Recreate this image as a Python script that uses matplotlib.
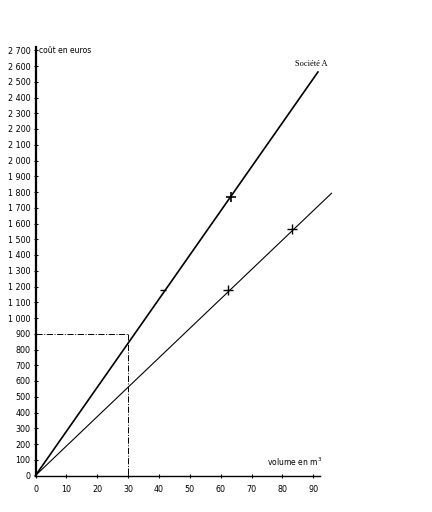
import matplotlib
matplotlib.use('Agg')
import matplotlib.pyplot as plt

# data
volumes_A = [0, 91.5]
costs_A = [0, 2562]
volumes_B = [0, 95.9]
costs_B = [0, 1792]
marks_A_x = [63.2]
marks_A_y = [1770]
small_A_x = [41.3]
small_A_y = [1178]
marks_B_x = [62.2, 83.2]
marks_B_y = [1178, 1563]
read_v = 30
read_cost = 900

yticks = list(range(0, 2800, 100))
ylabels = ['0'] + [(str(v) if v < 1000 else str(v)[:-3] + ' ' + str(v)[-3:]) for v in yticks[1:]]
xticks = list(range(0, 100, 10))

fig = plt.figure(figsize=(4.32, 5.12), dpi=100)
ax = fig.add_axes([35.5/432, 36.5/512, 284/432, 428.4/512])

ax.plot(volumes_A, costs_A, color='black', lw=1.2, clip_on=False)
ax.plot(volumes_B, costs_B, color='black', lw=0.8, clip_on=False)
ax.plot(marks_A_x, marks_A_y, '+', color='black', ms=7, mew=1.2)
ax.plot(small_A_x, small_A_y, '_', color='black', ms=4, mew=1)
ax.plot(marks_B_x, marks_B_y, '+', color='black', ms=7, mew=1.0)

# reading lines for 900 euros
ax.plot([0, read_v], [read_cost, read_cost], color='black', lw=0.7, ls='-.')
ax.plot([read_v, read_v], [read_cost, 0], color='black', lw=0.7, ls='-.')

ax.set_xlim(0, 92)
ax.set_ylim(0, 2720)
ax.spines['top'].set_visible(False)
ax.spines['right'].set_visible(False)
ax.spines['left'].set_linewidth(1.6)
ax.spines['bottom'].set_linewidth(1.0)

ax.set_yticks(yticks)
ax.set_yticklabels(ylabels)
ax.set_xticks(xticks)
ax.tick_params(axis='both', labelsize=5.8, length=3, width=0.8, direction='inout')
ax.tick_params(axis='x', pad=5)
ax.tick_params(axis='y', pad=2)

ax.text(1.2, 2700, 'coût en euros', fontsize=5.5, va='center', ha='left')
ax.text(75, 45, 'volume en m$^3$', fontsize=5.5, va='bottom', ha='left')
ax.text(84, 2590, 'Société A', fontsize=6, va='bottom', ha='left', family='Liberation Serif')

fig.savefig('out.png', dpi=100)
